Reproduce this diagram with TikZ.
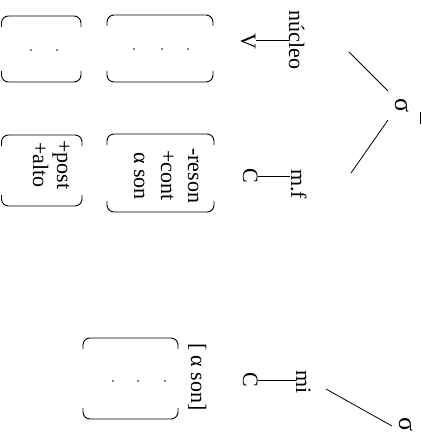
\documentclass[tikz,border=0pt]{standalone}
\usepackage{fontspec}
\setmainfont{Liberation Serif}
\newcommand\mtxbox[4]{%
  \draw[brk] (#1,#2+11) -- (#1,#2) -- (#3,#2) -- (#3,#2+11);
  \draw[brk] (#1,#4-11) -- (#1,#4) -- (#3,#4) -- (#3,#4-11);}
\begin{document}
\begin{tikzpicture}[x=1pt,y=-1pt,
  lbl/.style={rotate=-90,inner sep=0pt,font=\fontsize{22}{26}\selectfont},
  sig/.style={lbl,font=\fontsize{26}{30}\selectfont},
  ln/.style={line width=0.8pt},
  brk/.style={line width=0.9pt,rounded corners=7pt},
  dotm/.style={fill=black}]
\useasboundingbox (0,0) rectangle (422,433);
% syllable nodes
\node[sig,anchor=base] (s1) at (395,106) {σ};
\node[sig,anchor=base] (s2) at (399,424.5) {σ};
\node[lbl,anchor=base] (nuc) at (289,40) {núcleo};
\node[lbl,anchor=base] (mf) at (291,184) {m.f};
\node[lbl,anchor=base] (mi) at (296,382) {mi};
\node[lbl,anchor=base] (V) at (241,41) {V};
\node[lbl,anchor=base] (C1) at (243,176) {C};
\node[lbl,anchor=base] (C2) at (243,380) {C};
\node[lbl,anchor=base] (ason) at (191,377) {[ α son]};
% branch end points
\coordinate (a1) at (388,91);
\coordinate (a2) at (349,52);
\coordinate (b1) at (388,120);
\coordinate (b2) at (351,173);
\coordinate (c1) at (392,426);
\coordinate (c2) at (326,389);
\draw[ln] (a1) -- (a2);
\draw[ln] (b1) -- (b2);
\draw[ln] (c1) -- (c2);
% association lines
\draw[ln] (nuc.south) -- (nuc.south -| V.north);
\draw[ln] (C1.north) -- (C1.north -| mf.south);
\draw[ln] (C2.north) -- (C2.north -| mi.south);
% edge mark
\coordinate (e1) at (420.5,112);
\coordinate (e2) at (420.5,124);
\draw[ln] (e1) -- (e2);
% matrices
\mtxbox{107}{15}{213}{82}
\fill[dotm] (134,49) circle (0.9pt) (162,49) circle (0.9pt) (188,49) circle (0.9pt);
\mtxbox{1.5}{16}{81}{82}
\fill[dotm] (31,50) circle (0.9pt) (57,50) circle (0.9pt);
\mtxbox{107}{134}{214}{212}
\node[lbl,anchor=base west] (r1) at (188,148) {-reson};
\node[lbl,anchor=base west] (r2) at (161,150) {+cont};
\node[lbl,anchor=base west] (r3) at (134,152) {α son};
\mtxbox{1.5}{135}{82}{206}
\node[lbl,anchor=base west] (p1) at (57,140) {+post};
\node[lbl,anchor=base west] (p2) at (33,142) {+alto};
\mtxbox{83}{338}{178}{419}
\fill[dotm] (113,381) circle (0.9pt) (138,381) circle (0.9pt) (165,381) circle (0.9pt);
\end{tikzpicture}
\end{document}
